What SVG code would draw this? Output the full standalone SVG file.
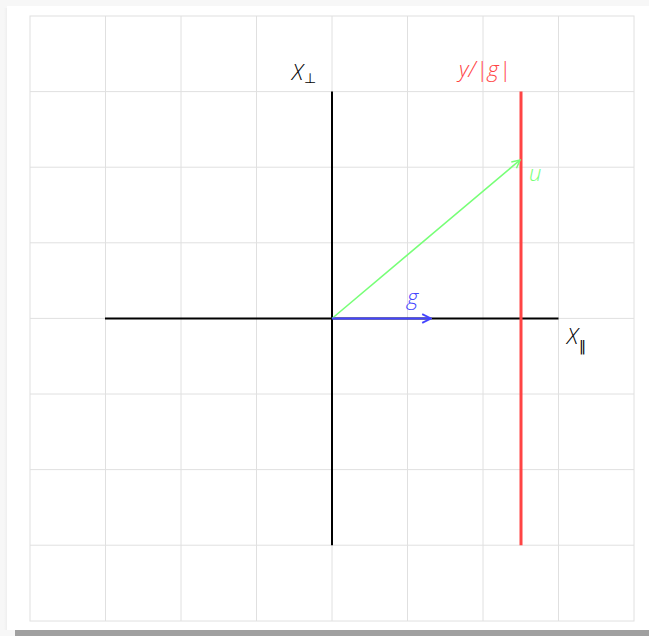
<svg xmlns="http://www.w3.org/2000/svg" width="649" height="636" viewBox="0 0 649 636">
<defs>
<style>
.grid{stroke:#e0e0e0;stroke-width:1;fill:none}
.axis{stroke:#000;stroke-width:2}
.lbl{font-family:"Open Sans","Liberation Sans",sans-serif;font-weight:300;font-style:italic;font-size:22px}
.sub{font-family:"DejaVu Sans","Liberation Sans",sans-serif;font-weight:normal;font-style:normal;font-size:14px}
</style>
<marker id="ag" viewBox="0 0 10 10" refX="9" refY="5" markerWidth="10" markerHeight="10" markerUnits="userSpaceOnUse" orient="auto"><path d="M1,1 L9,5 L1,9" fill="none" stroke="#77ff77" stroke-width="1.5"/></marker>
<marker id="ab" viewBox="0 0 10 10" refX="9" refY="5" markerWidth="11" markerHeight="11" markerUnits="userSpaceOnUse" orient="auto"><path d="M1,1 L9,5 L1,9" fill="none" stroke="#4444ff" stroke-width="1.6"/></marker>
<linearGradient id="ls" x1="0" x2="1"><stop offset="0" stop-color="#f7f7f7"/><stop offset="1" stop-color="#ececec"/></linearGradient>
</defs>
<rect width="649" height="636" fill="#f7f7f7"/>
<rect x="15" y="630" width="634" height="6" fill="#a0a0a0"/>
<rect x="4" y="8" width="4" height="622" fill="url(#ls)"/>
<rect x="7" y="6" width="642" height="624" fill="#fff"/>
<g id="grid" class="grid">
<rect x="30" y="16" width="604" height="605"/>
<path d="M105.5,16V621M181,16V621M256.5,16V621M332,16V621M407.5,16V621M483,16V621M558.5,16V621M30,91.6H634M30,167.2H634M30,242.8H634M30,318.4H634M30,394H634M30,469.6H634M30,545.2H634"/>
</g>
<g id="axes">
<line class="axis" x1="105" y1="318.5" x2="558.5" y2="318.5"/>
<line class="axis" x1="332" y1="91.6" x2="332" y2="545.2"/>
</g>
<g id="line-y">
<line x1="521" y1="91.6" x2="521" y2="545.2" stroke="#ff4444" stroke-width="3"/>
</g>
<g id="connectors">
<line id="u" x1="332" y1="318.5" x2="520" y2="160" stroke="#77ff77" stroke-width="1.6" marker-end="url(#ag)"/>
<line id="g" x1="332" y1="318.5" x2="431" y2="318.5" stroke="#4444ff" stroke-width="2" marker-end="url(#ab)"/>
</g>
<g id="labels">
<text class="lbl" x="292" y="80" fill="#000">X<tspan class="sub" dx="1" dy="3">⊥</tspan></text>
<text class="lbl" x="459" y="77" fill="#ff4444">y/|g|</text>
<text class="lbl" x="529" y="181" fill="#77ff77">u</text>
<text class="lbl" x="407" y="305" fill="#4444ff">g</text>
<text class="lbl" x="567" y="344" fill="#000">X<tspan class="sub" dx="1" dy="7">‖</tspan></text>
</g>
</svg>
